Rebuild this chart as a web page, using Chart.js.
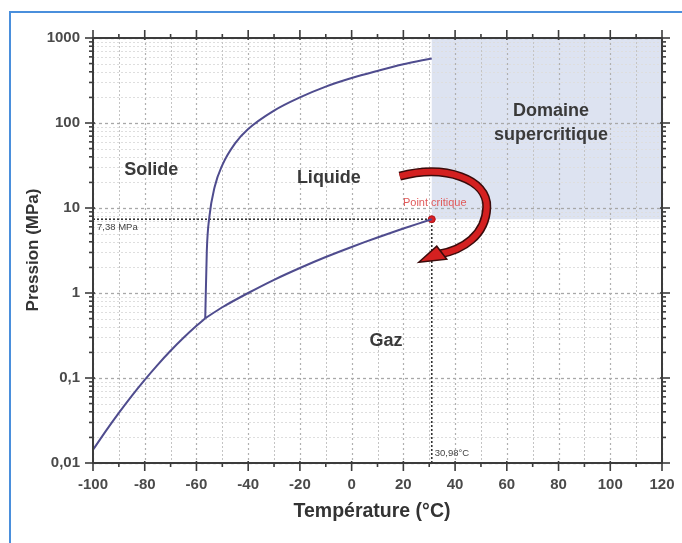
<!DOCTYPE html>
<html><head><meta charset="utf-8">
<script src="https://cdn.jsdelivr.net/npm/chart.js@4.4.1/dist/chart.umd.min.js"></script>
<style>
html,body{margin:0;padding:0;background:#fff;overflow:hidden;}
#wrap{position:relative;width:682px;height:543px;}
#frame{position:absolute;left:9px;top:11px;width:700px;height:600px;border-top:2px solid #4a8fdc;border-left:2px solid #4a8fdc;pointer-events:none;}
canvas{position:absolute;left:0;top:0;}
</style></head><body>
<div id="wrap"><canvas id="c" width="682" height="543"></canvas><div id="frame"></div></div>
<script>
// ---- data ----
const xTickLabels = ['-100','-80','-60','-40','-20','0','20','40','60','80','100','120'];
const yTickValues = [0.01, 0.1, 1, 10, 100, 1000];
const yTickLabels = ['0,01', '0,1', '1', '10', '100', '1000'];

const sublimationT = [-100, -95, -90, -85, -80, -75, -70, -65, -60, -56.6];
const sublimationP = [0.0143, 0.0239, 0.0389, 0.0617, 0.0951, 0.143, 0.209, 0.297, 0.411, 0.504];

const vaporizationT = [-56.6, -50, -40, -30, -20, -10, 0, 10, 20, 30.98];
const vaporizationP = [0.504, 0.68, 1.0, 1.43, 1.97, 2.65, 3.48, 4.5, 5.73, 7.38];

const meltingT = [-56.6, -56, -55, -53, -50, -45, -40, -30, -20, -10, 0, 10, 20, 30.98];
const meltingP = [0.504, 3.1, 7.9, 17.5, 32, 58, 85, 140, 200, 268, 338, 410, 490, 575];

const criticalT = 30.98;
const criticalP = 7.38;
const criticalTLabel = '30,98°C';
const criticalPLabel = '7,38 MPa';

const regionLabels = ['Solide', 'Liquide', 'Gaz', 'Domaine', 'supercritique'];
const pointLabel = 'Point critique';
const xTitle = 'Température (°C)';
const yTitle = 'Pression (MPa)';

// ---- helpers ----
const xMajors = xTickLabels.map(Number);
const xMinors = [];
for (let i = 0; i < xMajors.length - 1; i++) xMinors.push((xMajors[i] + xMajors[i + 1]) / 2);
const yMinors = [];
for (let i = 0; i < yTickValues.length - 1; i++) for (let k = 2; k <= 9; k++) yMinors.push(yTickValues[i] * k);
const toPts = (T, P) => T.map((t, i) => ({ x: t, y: P[i] }));
const FONT = 'Liberation Sans, Arial, sans-serif';
const lineColor = '#4f4c8e';

const decor = {
  id: 'decor',
  beforeDraw(chart) {
    const ctx = chart.ctx, X = chart.scales.x, Y = chart.scales.y, a = chart.chartArea;
    const px = v => X.getPixelForValue(v), py = v => Y.getPixelForValue(v);
    ctx.save();
    ctx.fillStyle = '#fff';
    ctx.fillRect(0, 0, chart.width, chart.height);
    // supercritical region
    ctx.fillStyle = '#dde3f1';
    ctx.fillRect(px(criticalT), a.top, a.right - px(criticalT), py(criticalP) - a.top);
    // minor grid
    ctx.lineWidth = 1;
    ctx.setLineDash([2, 2]);
    ctx.strokeStyle = '#dedede';
    yMinors.forEach(v => { const y = Math.round(py(v)) + 0.5; ctx.beginPath(); ctx.moveTo(a.left, y); ctx.lineTo(a.right, y); ctx.stroke(); });
    ctx.strokeStyle = '#c4c4c4';
    xMinors.forEach(v => { const x = Math.round(px(v)) + 0.5; ctx.beginPath(); ctx.moveTo(x, a.top); ctx.lineTo(x, a.bottom); ctx.stroke(); });
    // major grid
    ctx.setLineDash([3, 3]);
    ctx.strokeStyle = '#a8a8a8';
    ctx.lineWidth = 1.3;
    yTickValues.forEach(v => { const y = Math.round(py(v)) + 0.5; ctx.beginPath(); ctx.moveTo(a.left, y); ctx.lineTo(a.right, y); ctx.stroke(); });
    ctx.setLineDash([2, 3]);
    ctx.strokeStyle = '#b0b0b0';
    ctx.lineWidth = 1.2;
    xMajors.forEach(v => { const x = Math.round(px(v)) + 0.5; ctx.beginPath(); ctx.moveTo(x, a.top); ctx.lineTo(x, a.bottom); ctx.stroke(); });
    // critical dotted guides
    ctx.setLineDash([2, 2]);
    ctx.strokeStyle = '#333';
    ctx.lineWidth = 1.6;
    const cx = px(criticalT), cy = py(criticalP);
    ctx.beginPath(); ctx.moveTo(a.left, cy); ctx.lineTo(cx, cy); ctx.stroke();
    ctx.beginPath(); ctx.moveTo(cx, a.bottom); ctx.lineTo(cx, cy); ctx.stroke();
    ctx.restore();
  },
  afterDatasetsDraw(chart) {
    const ctx = chart.ctx, X = chart.scales.x, Y = chart.scales.y, a = chart.chartArea;
    const px = v => X.getPixelForValue(v), py = v => Y.getPixelForValue(v);
    ctx.save();
    // frame
    ctx.strokeStyle = '#3c3c3c';
    ctx.lineWidth = 2;
    ctx.strokeRect(a.left, a.top, a.right - a.left, a.bottom - a.top);
    ctx.lineWidth = 1.6;
    const tick = (x1, y1, x2, y2) => { ctx.beginPath(); ctx.moveTo(x1, y1); ctx.lineTo(x2, y2); ctx.stroke(); };
    xMajors.forEach(v => { const x = px(v); tick(x, a.bottom - 2, x, a.bottom + 8); tick(x, a.top + 2, x, a.top - 8); });
    xMinors.forEach(v => { const x = px(v); tick(x, a.bottom, x, a.bottom + 4); tick(x, a.top, x, a.top - 4); });
    yTickValues.forEach(v => { const y = py(v); tick(a.left + 2, y, a.left - 8, y); tick(a.right - 2, y, a.right + 8, y); });
    yMinors.forEach(v => { const y = py(v); tick(a.left, y, a.left - 4, y); tick(a.right, y, a.right + 4, y); });

    // small labels for critical values
    ctx.fillStyle = '#444';
    ctx.font = '9.5px ' + FONT;
    ctx.textBaseline = 'middle';
    ctx.textAlign = 'left';
    const cx = px(criticalT), cy = py(criticalP);
    ctx.fillText(criticalPLabel, a.left + 4, cy + 8);
    ctx.fillText(criticalTLabel, cx + 3, a.bottom - 10);

    // region labels (positions in data units)
    ctx.fillStyle = '#3a3a3a';
    ctx.textAlign = 'center';
    ctx.font = 'bold 18px ' + FONT;
    ctx.fillText(regionLabels[0], px(-77.5), py(28));
    ctx.fillText(regionLabels[1], px(-8.8), py(22.7));
    ctx.fillText(regionLabels[2], px(13.3), py(0.27));
    ctx.fillText(regionLabels[3], px(77.1), py(138));
    ctx.fillText(regionLabels[4], px(77.1), py(73));

    // Point critique label
    ctx.fillStyle = '#e05a5a';
    ctx.font = '11px ' + FONT;
    ctx.fillText(pointLabel, cx + 3, cy - 16);

    // curved red arrow (relative to critical point pixel)
    const P = (dx, dy) => [cx + dx, cy + dy];
    const s = P(-32, -43), c1 = P(14, -55), c2 = P(56, -40), m = P(55, -12);
    const c3 = P(54, 16), c4 = P(31, 31), e = P(7, 35);
    const path = () => {
      ctx.beginPath();
      ctx.moveTo(s[0], s[1]);
      ctx.bezierCurveTo(c1[0], c1[1], c2[0], c2[1], m[0], m[1]);
      ctx.bezierCurveTo(c3[0], c3[1], c4[0], c4[1], e[0], e[1]);
    };
    ctx.lineCap = 'butt';
    ctx.strokeStyle = '#3a0b0b';
    ctx.lineWidth = 9;
    path(); ctx.stroke();
    ctx.strokeStyle = '#d42020';
    ctx.lineWidth = 6;
    path(); ctx.stroke();
    // arrowhead
    const tip = P(-13, 43), w1 = P(5, 27), w2 = P(15, 40);
    ctx.beginPath();
    ctx.moveTo(tip[0], tip[1]); ctx.lineTo(w1[0], w1[1]); ctx.lineTo(w2[0], w2[1]); ctx.closePath();
    ctx.fillStyle = '#d42020';
    ctx.fill();
    ctx.strokeStyle = '#3a0b0b';
    ctx.lineWidth = 1.5;
    ctx.stroke();

    // axis titles
    ctx.fillStyle = '#333';
    ctx.font = 'bold 19.5px ' + FONT;
    ctx.textAlign = 'center';
    ctx.fillText(xTitle, 372, 512);
    ctx.font = 'bold 17px ' + FONT;
    ctx.translate(33, 250);
    ctx.rotate(-Math.PI / 2);
    ctx.fillText(yTitle, 0, 0);
    ctx.restore();
  }
};

new Chart(document.getElementById('c'), {
  type: 'line',
  data: {
    datasets: [
      { data: toPts(sublimationT, sublimationP), borderColor: lineColor, borderWidth: 2, pointRadius: 0, tension: 0.3, fill: false },
      { data: toPts(vaporizationT, vaporizationP), borderColor: lineColor, borderWidth: 2, pointRadius: 0, tension: 0.3, fill: false },
      { data: toPts(meltingT, meltingP), borderColor: lineColor, borderWidth: 2, pointRadius: 0, cubicInterpolationMode: 'monotone', fill: false },
      { data: [{ x: criticalT, y: criticalP }], showLine: false, pointRadius: 3.5, pointBackgroundColor: '#d91e26', pointBorderColor: '#b01515', pointBorderWidth: 1 }
    ]
  },
  options: {
    responsive: false,
    animation: false,
    devicePixelRatio: 1,
    layout: { padding: { left: 0, top: 38, right: 20, bottom: 0 } },
    plugins: { legend: { display: false }, tooltip: { enabled: false } },
    scales: {
      x: {
        type: 'linear', min: -100, max: 120,
        grid: { display: false }, border: { display: false },
        afterBuildTicks: s => { s.ticks = xMajors.map(v => ({ value: v })); },
        afterFit: s => { s.height = 80; },
        ticks: { autoSkip: false, maxRotation: 0, padding: 5, color: '#4a4a4a', font: { family: FONT, size: 15, weight: 'bold' },
                 callback: (v, i) => xTickLabels[i] }
      },
      y: {
        type: 'logarithmic', min: 0.01, max: 1000,
        grid: { display: false }, border: { display: false },
        afterBuildTicks: s => { s.ticks = yTickValues.map(v => ({ value: v })); },
        afterFit: s => { s.width = 93; },
        ticks: { autoSkip: false, padding: 5, color: '#4a4a4a', font: { family: FONT, size: 15, weight: 'bold' },
                 callback: (v, i) => yTickLabels[i] }
      }
    }
  },
  plugins: [decor]
});
</script>
</body></html>
